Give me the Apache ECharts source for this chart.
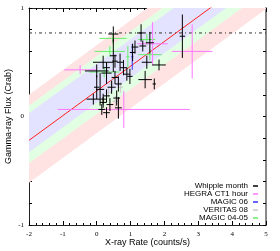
<!DOCTYPE html>
<html><head><meta charset="utf-8">
<script src="https://cdn.jsdelivr.net/npm/echarts@6/dist/echarts.min.js"></script>
<style>html,body{margin:0;padding:0;background:#fff}#c{width:280px;height:251px}</style>
</head><body><div id="c"></div>
<script>
// ---- data ----
const xTickValues = [-2, -1, 0, 1, 2, 3, 4, 5];
const yLabelValues = [-1, 0, 1];
const fitX = [-2, 5];
const fitY = [-0.22, 1.376];
const bandRedUpper = [0.20, 1.80];
const bandRedLower = [-0.61, 0.99];
const bandGreenUpper = [0.10, 1.70];
const bandGreenLower = [-0.43, 1.16];
const bandBlueUpper = [0.03, 1.62];
const bandBlueLower = [-0.33, 1.27];
const crabLineY = 0.77;
// [x, y, xErr, yErr]
const whippleMonth = [
  [0.49, 0.76, 0.15, 0.07], [1.31, 0.77, 0.12, 0.08], [1.57, 0.68, 0.12, 0.10],
  [1.36, 0.65, 0.10, 0.05], [1.13, 0.64, 0.10, 0.06], [1.06, 0.59, 0.08, 0.08],
  [0.49, 0.56, 0.10, 0.15], [0.19, 0.50, 0.30, 0.06], [0.69, 0.50, 0.10, 0.08],
  [0.79, 0.45, 0.10, 0.07], [1.48, 0.50, 0.15, 0.06], [0.00, 0.42, 0.35, 0.06],
  [0.29, 0.40, 0.15, 0.10], [0.54, 0.36, 0.10, 0.06], [0.89, 0.39, 0.10, 0.06],
  [0.64, 0.30, 0.10, 0.07], [1.43, 0.34, 0.20, 0.08], [0.44, 0.27, 0.12, 0.06],
  [0.10, 0.25, 0.12, 0.15], [0.29, 0.19, 0.10, 0.06], [0.59, 0.17, 0.10, 0.07],
  [0.19, 0.13, 0.10, 0.05], [0.39, 0.11, 0.10, 0.06], [0.15, 0.065, 0.10, 0.05],
  [0.64, 0.08, 0.10, 0.10], [0.29, 0.035, 0.10, 0.05], [-0.10, 0.16, 0.20, 0.05],
  [2.53, 0.74, 0.08, 0.20], [1.84, 0.475, 0.20, 0.05], [1.70, 0.30, 0.05, 0.05],
  [0.98, 0.37, 0.08, 0.07], [0.29, 0.45, 0.10, 0.05], [0.54, 0.51, 0.08, 0.06],
  [0.00, 0.27, 0.08, 0.11], [0.19, 0.16, 0.08, 0.05]
];
const hegraHour = [
  [0.80, 0.065, 1.95, 0.17], [2.82, 0.60, 0.60, 0.25], [1.65, 0.67, 0.45, 0.20],
  [-0.49, 0.43, 0.47, 0.04]
];
const magic06 = [
  [1.05, 0.55, 0.03, 0.12]
];
const veritas08 = [
  [0.35, 0.22, 0.08, 0.05], [0.55, 0.14, 0.08, 0.05], [0.45, 0.30, 0.08, 0.05], [0.70, 0.27, 0.08, 0.05]
];
const magic0405 = [
  [0.22, 0.41, 0.45, 0.05], [0.48, 0.72, 0.40, 0.05], [0.39, 0.60, 0.45, 0.05],
  [1.48, 0.71, 0.25, 0.05], [1.57, 0.57, 0.35, 0.05], [0.92, 0.55, 0.05, 0.10]
];

// ---- chart ----
const chart = echarts.init(document.getElementById('c'), null, {renderer: 'canvas'});
const serif = 'Liberation Serif';
const sans = 'Liberation Sans';

function bandSeries(upper, lower, color) {
  return {
    type: 'custom', clip: true, silent: true, z: 1,
    data: [[fitX[0], lower[0], upper[0]], [fitX[1], lower[1], upper[1]]],
    renderItem(params, api) {
      if (params.dataIndex !== 0) return null;
      const pts = [
        api.coord([fitX[0], lower[0]]), api.coord([fitX[1], lower[1]]),
        api.coord([fitX[1], upper[1]]), api.coord([fitX[0], upper[0]])
      ];
      return {type: 'polygon', shape: {points: pts}, style: {fill: color}};
    }
  };
}

function errSeries(name, data, color) {
  return {
    name, type: 'custom', clip: true, z: 5,
    itemStyle: {color},
    data,
    renderItem(params, api) {
      const x = api.value(0), y = api.value(1), xe = api.value(2), ye = api.value(3);
      const a = api.coord([x - xe, y]), b = api.coord([x + xe, y]);
      const c = api.coord([x, y - ye]), d = api.coord([x, y + ye]);
      const st = {stroke: color, lineWidth: 1};
      return {type: 'group', children: [
        {type: 'line', shape: {x1: a[0], y1: a[1], x2: b[0], y2: b[1]}, style: st},
        {type: 'line', shape: {x1: c[0], y1: c[1], x2: d[0], y2: d[1]}, style: st}
      ]};
    }
  };
}

const xAxisBase = {
  type: 'value', min: xTickValues[0], max: xTickValues[xTickValues.length - 1], interval: 1,
  splitLine: {show: false},
  axisTick: {show: true, inside: true, length: 4, lineStyle: {color: '#000'}},
  minorTick: {show: true, splitNumber: 5, length: 2, lineStyle: {color: '#000'}},
};
const yAxisBase = {
  type: 'value', min: yLabelValues[0], max: yLabelValues[yLabelValues.length - 1], interval: 0.2,
  splitLine: {show: false},
  axisTick: {show: true, inside: true, length: 3, lineStyle: {color: '#000'}},
};

chart.setOption({
  animation: false,
  grid: {left: 29, right: 14, top: 8, bottom: 26, containLabel: false, outerBoundsMode: 'none'},
  xAxis: [
    Object.assign({}, xAxisBase, {
      position: 'bottom',
      axisLine: {show: true, onZero: false, lineStyle: {color: '#222', width: 1}},
      axisLabel: {show: true, fontFamily: serif, fontSize: 7, color: '#000', margin: 6},
      name: 'X-ray Rate (counts/s)', nameLocation: 'middle', nameGap: 13.5, nameMoveOverlap: false,
      nameTextStyle: {fontFamily: sans, fontSize: 9, color: '#000'}
    }),
    Object.assign({}, xAxisBase, {
      position: 'top',
      axisLine: {show: true, onZero: false, lineStyle: {color: '#222', width: 1}},
      axisLabel: {show: false}
    })
  ],
  yAxis: [
    Object.assign({}, yAxisBase, {
      position: 'left',
      axisLine: {show: true, onZero: false, lineStyle: {color: '#222', width: 1}},
      axisLabel: {
        show: true, fontFamily: serif, fontSize: 7, color: '#000', margin: 5,
        formatter: v => {
          const r = Math.round(v * 10) / 10;
          return yLabelValues.indexOf(r) >= 0 ? String(r) : '';
        }
      },
      name: 'Gamma-ray Flux (Crab)', nameLocation: 'middle', nameGap: 16, nameRotate: 90, nameMoveOverlap: false,
      nameTextStyle: {fontFamily: sans, fontSize: 9, color: '#000'}
    }),
    Object.assign({}, yAxisBase, {
      position: 'right',
      axisLine: {show: true, onZero: false, lineStyle: {color: '#888', width: 2}},
      axisLabel: {show: false}
    })
  ],
  legend: {
    orient: 'vertical', align: 'right', right: 22, top: 182,
    itemWidth: 5, itemHeight: 1.5, itemGap: 0, padding: 0,
    textStyle: {fontFamily: sans, fontSize: 8, color: '#000', lineHeight: 7.8},
    data: [
      {name: 'Whipple month', icon: 'rect'},
      {name: 'HEGRA CT1 hour', icon: 'rect'},
      {name: 'MAGIC 06', icon: 'rect'},
      {name: 'VERITAS 08', icon: 'rect'},
      {name: 'MAGIC 04-05', icon: 'rect'}
    ],
    selectedMode: false
  },
  series: [
    bandSeries(bandRedUpper, bandRedLower, '#ffe3e3'),
    bandSeries(bandGreenUpper, bandGreenLower, '#e3ffe3'),
    bandSeries(bandBlueUpper, bandBlueLower, '#e3e3ff'),
    {
      type: 'line', z: 3, symbol: 'none', silent: true,
      data: [[fitX[0], fitY[0]], [fitX[1], fitY[1]]],
      lineStyle: {color: '#ff2020', width: 1}
    },
    {
      type: 'line', z: 3, symbol: 'none', silent: true,
      data: [[xTickValues[0], crabLineY], [xTickValues[xTickValues.length - 1], crabLineY]],
      lineStyle: {color: '#333', width: 1, type: [3, 3, 1, 3]}
    },
    errSeries('MAGIC 04-05', magic0405, '#66ee66'),
    errSeries('VERITAS 08', veritas08, '#c8c8c8'),
    errSeries('HEGRA CT1 hour', hegraHour, '#ff77ff'),
    errSeries('MAGIC 06', magic06, '#3333ff'),
    errSeries('Whipple month', whippleMonth, '#000000')
  ]
});
</script>
</body></html>
